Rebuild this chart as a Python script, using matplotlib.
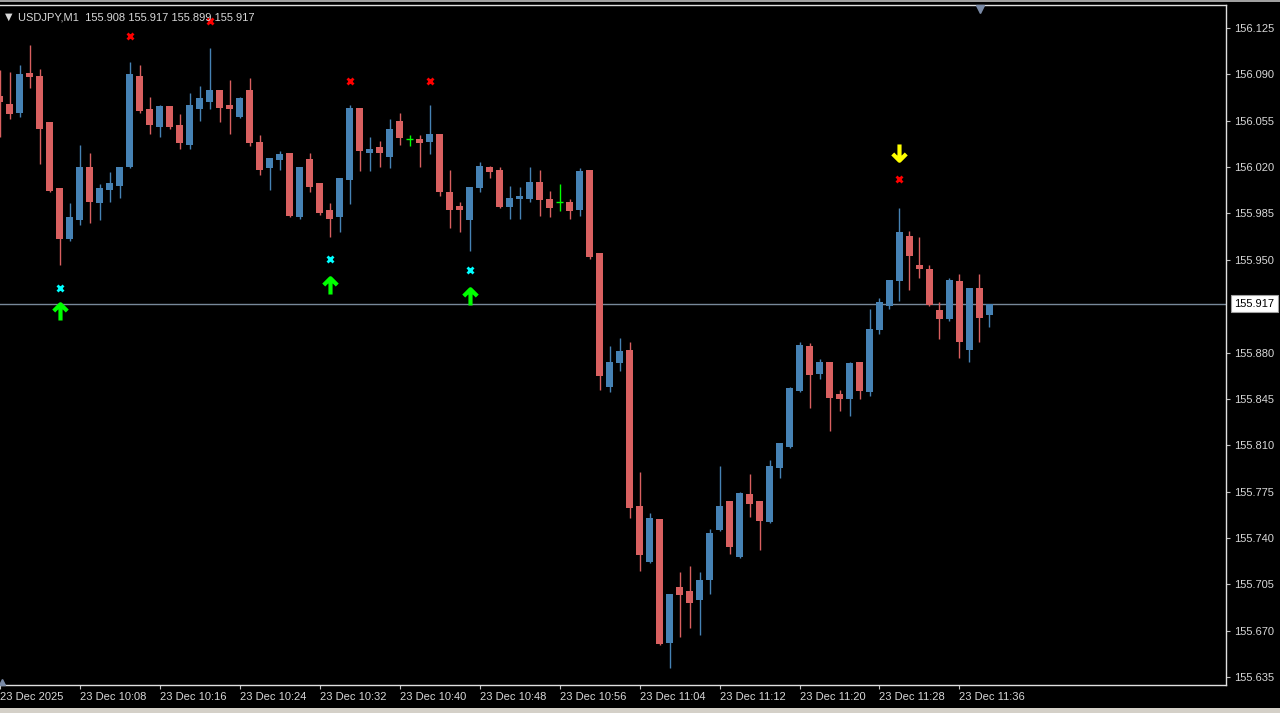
import numpy as np
import matplotlib.pyplot as plt
from matplotlib.path import Path
from matplotlib.patches import Rectangle

# USDJPY M1 candles, 23 Dec 2025 from 10:00
opens = [156.074, 156.068, 156.061, 156.091, 156.089, 156.054, 156.004, 155.966, 155.980, 156.020,
         155.993, 156.003, 156.006, 156.020, 156.089, 156.064, 156.050, 156.066, 156.052, 156.037,
         156.064, 156.069, 156.078, 156.067, 156.058, 156.078, 156.039, 156.019, 156.025, 156.031,
         155.982, 156.026, 156.008, 155.988, 155.982, 156.010, 156.065, 156.031, 156.035, 156.028,
         156.055, 156.041, 156.041, 156.039, 156.045, 156.001, 155.991, 155.980, 156.004, 156.020,
         156.018, 155.990, 155.996, 155.996, 156.009, 155.996, 155.994, 155.994, 155.988, 156.018,
         155.955, 155.854, 155.872, 155.882, 155.764, 155.722, 155.754, 155.661, 155.703, 155.700,
         155.693, 155.708, 155.746, 155.768, 155.726, 155.773, 155.768, 155.752, 155.793, 155.809,
         155.851, 155.885, 155.864, 155.873, 155.849, 155.845, 155.873, 155.850, 155.897, 155.915,
         155.934, 155.968, 155.946, 155.943, 155.912, 155.905, 155.934, 155.882, 155.929, 155.908]
highs = [156.093, 156.092, 156.097, 156.112, 156.094, 156.054, 156.004, 155.993, 156.037, 156.031,
         156.007, 156.016, 156.020, 156.099, 156.097, 156.073, 156.067, 156.066, 156.060, 156.076,
         156.081, 156.110, 156.078, 156.086, 156.073, 156.087, 156.044, 156.027, 156.032, 156.031,
         156.020, 156.031, 156.008, 155.993, 156.012, 156.067, 156.065, 156.043, 156.040, 156.056,
         156.061, 156.044, 156.044, 156.067, 156.045, 156.018, 155.994, 156.005, 156.024, 156.021,
         156.020, 156.006, 156.005, 156.020, 156.018, 156.002, 156.007, 155.996, 156.019, 156.018,
         155.955, 155.885, 155.891, 155.888, 155.790, 155.759, 155.754, 155.698, 155.714, 155.719,
         155.714, 155.747, 155.794, 155.768, 155.775, 155.788, 155.768, 155.799, 155.812, 155.854,
         155.888, 155.887, 155.875, 155.873, 155.852, 155.873, 155.873, 155.913, 155.921, 155.935,
         155.989, 155.972, 155.967, 155.946, 155.918, 155.936, 155.939, 155.929, 155.939, 155.917]
lows = [156.043, 156.056, 156.058, 156.080, 156.022, 156.001, 155.946, 155.964, 155.976, 155.978,
        155.980, 155.994, 155.997, 156.019, 156.061, 156.045, 156.043, 156.049, 156.034, 156.034,
        156.055, 156.064, 156.054, 156.045, 156.057, 156.036, 156.014, 156.003, 156.018, 155.982,
        155.981, 156.001, 155.984, 155.967, 155.971, 155.992, 156.017, 156.017, 156.020, 156.019,
        156.037, 156.036, 156.020, 156.030, 155.998, 155.974, 155.971, 155.957, 156.001, 156.012,
        155.989, 155.981, 155.981, 155.994, 155.983, 155.982, 155.987, 155.981, 155.983, 155.951,
        155.852, 155.850, 155.866, 155.755, 155.715, 155.721, 155.659, 155.642, 155.665, 155.672,
        155.667, 155.698, 155.745, 155.728, 155.725, 155.756, 155.731, 155.751, 155.785, 155.808,
        155.850, 155.838, 155.860, 155.821, 155.836, 155.832, 155.845, 155.847, 155.894, 155.913,
        155.919, 155.927, 155.936, 155.915, 155.890, 155.904, 155.876, 155.873, 155.888, 155.899]
closes = [156.069, 156.060, 156.090, 156.088, 156.049, 156.002, 155.966, 155.982, 156.020, 155.994,
          156.004, 156.008, 156.020, 156.090, 156.062, 156.052, 156.066, 156.050, 156.038, 156.067,
          156.072, 156.078, 156.065, 156.064, 156.072, 156.038, 156.018, 156.027, 156.030, 155.983,
          156.020, 156.005, 155.985, 155.981, 156.012, 156.065, 156.032, 156.034, 156.031, 156.049,
          156.042, 156.041, 156.038, 156.045, 156.001, 155.988, 155.988, 156.005, 156.021, 156.016,
          155.990, 155.997, 155.998, 156.009, 155.995, 155.989, 155.994, 155.987, 156.017, 155.952,
          155.862, 155.873, 155.881, 155.763, 155.727, 155.755, 155.660, 155.698, 155.697, 155.691,
          155.708, 155.744, 155.764, 155.733, 155.774, 155.766, 155.753, 155.794, 155.812, 155.853,
          155.886, 155.863, 155.873, 155.846, 155.845, 155.872, 155.851, 155.898, 155.918, 155.935,
          155.971, 155.953, 155.943, 155.916, 155.905, 155.935, 155.888, 155.929, 155.906, 155.917]

# indicator marks (bar index, price)
red_x_bars = [13, 21, 35, 43, 90]
red_x_prices = [156.119, 156.130, 156.085, 156.085, 156.011]
cyan_x_bars = [6, 33, 47]
cyan_x_prices = [155.929, 155.951, 155.942]
up_arrow_bars = [6, 33, 47]
up_arrow_prices = [155.911, 155.931, 155.923]
down_arrow_bars = [90]
down_arrow_prices = [156.031]

x_tick_bars = [0, 8, 16, 24, 32, 40, 48, 56, 64, 72, 80, 88, 96]
x_tick_labels = ['23 Dec 2025', '23 Dec 10:08', '23 Dec 10:16', '23 Dec 10:24', '23 Dec 10:32',
                 '23 Dec 10:40', '23 Dec 10:48', '23 Dec 10:56', '23 Dec 11:04', '23 Dec 11:12',
                 '23 Dec 11:20', '23 Dec 11:28', '23 Dec 11:36']
y_ticks = [156.125, 156.090, 156.055, 156.020, 155.985, 155.950,
           155.880, 155.845, 155.810, 155.775, 155.740, 155.705, 155.670, 155.635]

bull_color = '#4682b4'
bear_color = '#d96060'
doji_color = '#00ff00'
text_color = '#d8d8d8'
font = ['Liberation Sans', 'DejaVu Sans']

fig = plt.figure(figsize=(12.8, 7.13), dpi=100, facecolor='black')
ax = fig.add_axes([0, 1 - 685 / 713, 1226 / 1280, 680 / 713])
ax.set_facecolor('black')

o = np.array(opens)
h = np.array(highs)
l = np.array(lows)
c = np.array(closes)
idx = np.arange(len(o))

cols = np.where(c > o, bull_color, np.where(c < o, bear_color, doji_color))
ax.vlines(idx, l, h, colors=cols, linewidth=1, zorder=2)
body = np.abs(c - o)
mask = body > 0
ax.bar(idx[mask], np.maximum(body[mask], 0.0008), bottom=np.minimum(o, c)[mask],
       width=0.7, color=cols[mask], linewidth=0, zorder=3)
doji = ~mask
ax.hlines(o[doji], idx[doji] - 0.35, idx[doji] + 0.35, colors=doji_color, linewidth=1, zorder=3)

# current price line
ax.axhline(closes[-1], color='#778899', linewidth=1, zorder=1)

# markers
up_path = Path([(-0.75, 0.05), (0, 0.8), (0.75, 0.05), (0, 0.8), (0, -1.0)],
               [Path.MOVETO, Path.LINETO, Path.LINETO, Path.MOVETO, Path.LINETO])
down_path = Path([(-0.75, -0.05), (0, -0.8), (0.75, -0.05), (0, -0.8), (0, 1.0)],
                 [Path.MOVETO, Path.LINETO, Path.LINETO, Path.MOVETO, Path.LINETO])
ax.plot(red_x_bars, red_x_prices, 'x', color='#ff0000', ms=5, mew=2, zorder=4, clip_on=False)
ax.plot(cyan_x_bars, cyan_x_prices, 'x', color='#00ffff', ms=5, mew=2, zorder=4)
ax.plot(up_arrow_bars, up_arrow_prices, linestyle='none', marker=up_path, ms=13,
        mfc='none', mec='#00ff00', mew=3, zorder=4)
ax.plot(down_arrow_bars, down_arrow_prices, linestyle='none', marker=down_path, ms=13,
        mfc='none', mec='#ffff00', mew=3, zorder=4)

ax.set_xlim(0.07, 122.67)
ax.set_ylim(155.629, 156.1424)

for s in ['top', 'right', 'bottom']:
    ax.spines[s].set_color('#e0e0e0')
    ax.spines[s].set_linewidth(1)
ax.spines['left'].set_visible(False)

ax.yaxis.tick_right()
ax.set_yticks(y_ticks)
ax.set_yticklabels(['%.3f' % v for v in y_ticks], family=font, fontsize=8, color=text_color)
ax.tick_params(axis='y', direction='out', length=3, color='#c0c0c0', pad=3)

ax.set_xticks(x_tick_bars)
ax.set_xticklabels(x_tick_labels, family=font, fontsize=8, color=text_color, ha='left')
ax.tick_params(axis='x', direction='out', length=3, color='#c0c0c0', pad=2)

# current price box on the axis
ax.annotate('%.3f' % closes[-1], xy=(1, closes[-1]), xycoords=('axes fraction', 'data'),
            xytext=(6, 0), textcoords='offset points', ha='left', va='center',
            family=font, fontsize=8, color='black', annotation_clip=False,
            bbox=dict(boxstyle='square,pad=0.3', fc='white', ec='#a0a0a0', lw=0.8))

# header
fig.text(5 / 1280, 1 - 17 / 713, '\u25bc', family=['DejaVu Sans'], fontsize=7,
         color=text_color, va='center', ha='left')
fig.text(18 / 1280, 1 - 17 / 713, 'USDJPY,M1  155.908 155.917 155.899 155.917',
         family=font, fontsize=8, color=text_color, va='center', ha='left')

# chart shift markers and window bars
fig.add_artist(plt.Line2D([980 / 1280], [1 - 9 / 713], marker='v', color='#7a8aa6', ms=6,
                          linestyle='none'))
fig.add_artist(plt.Line2D([2 / 1280], [1 - 682 / 713], marker='^', color='#7a8aa6', ms=5,
                          linestyle='none'))
fig.add_artist(Rectangle((0, 1 - 2 / 713), 1, 2 / 713, transform=fig.transFigure,
                         color='#a0a0a0', lw=0))
fig.add_artist(Rectangle((0, 0), 1, 5 / 713, transform=fig.transFigure,
                         color='#d4d0c8', lw=0))

fig.savefig('out.png', dpi=100, facecolor='black')
